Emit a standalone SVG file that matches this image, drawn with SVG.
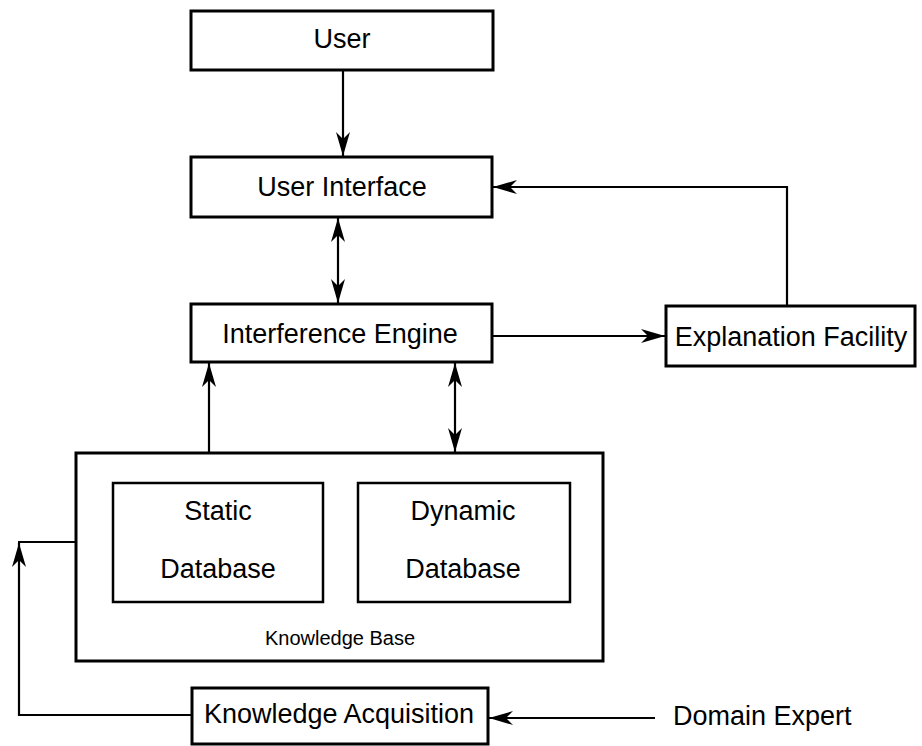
<svg xmlns="http://www.w3.org/2000/svg" width="922" height="746" viewBox="0 0 922 746">
<defs>
<style>
.box{fill:#fff;stroke:#000;stroke-width:3}
.inner{fill:none;stroke:#000;stroke-width:2.5}
.t{font-family:"Liberation Sans",Arial,sans-serif;font-size:27px;fill:#000;text-anchor:middle}
.s{font-family:"Liberation Sans",Arial,sans-serif;font-size:20px;fill:#000;text-anchor:middle}
.c{fill:none;stroke:#000;stroke-width:2.2}
</style>
<marker id="ah" markerUnits="userSpaceOnUse" markerWidth="26" markerHeight="14" refX="24" refY="7" orient="auto-start-reverse" viewBox="0 0 26 14">
<path d="M0,0 L24,7 L0,14 L7,7 Z" fill="#000"/>
</marker>
</defs>
<rect width="922" height="746" fill="#fff"/>
<g id="connectors">
<line class="c" x1="343" y1="70" x2="343" y2="156" marker-end="url(#ah)"/>
<line class="c" x1="338" y1="218" x2="338" y2="303" marker-start="url(#ah)" marker-end="url(#ah)"/>
<polyline class="c" points="787,306 787,187 493,187" marker-end="url(#ah)"/>
<line class="c" x1="492" y1="336" x2="665" y2="336" marker-end="url(#ah)"/>
<line class="c" x1="209" y1="453" x2="209" y2="363" marker-end="url(#ah)"/>
<line class="c" x1="455" y1="363" x2="455" y2="452" marker-start="url(#ah)" marker-end="url(#ah)"/>
<polyline class="c" points="192,715 19,715 19,543" marker-end="url(#ah)"/>
<line class="c" x1="18" y1="542" x2="76" y2="542"/>
<line class="c" x1="655" y1="718" x2="489" y2="718" marker-end="url(#ah)"/>
</g>
<g id="user">
<rect class="box" x="191" y="11" width="302" height="59"/>
<text class="t" x="342" y="48">User</text>
</g>
<g id="user-interface">
<rect class="box" x="191" y="157" width="301" height="60"/>
<text class="t" x="342" y="196">User Interface</text>
</g>
<g id="interference-engine">
<rect class="box" x="191" y="304" width="301" height="58"/>
<text class="t" x="340" y="343">Interference Engine</text>
</g>
<g id="explanation-facility">
<rect class="box" x="666" y="306" width="249" height="60"/>
<text class="t" x="791" y="346">Explanation Facility</text>
</g>
<g id="knowledge-base">
<rect class="box" x="76" y="453" width="527" height="208"/>
<text class="s" x="340" y="645">Knowledge Base</text>
</g>
<g id="static-database">
<rect class="inner" x="113" y="483" width="210" height="119"/>
<text class="t" x="218" y="520">Static</text>
<text class="t" x="218" y="578">Database</text>
</g>
<g id="dynamic-database">
<rect class="inner" x="358" y="483" width="212" height="119"/>
<text class="t" x="463" y="520">Dynamic</text>
<text class="t" x="463" y="578">Database</text>
</g>
<g id="knowledge-acquisition">
<rect class="box" x="192" y="688" width="296" height="56"/>
<text class="t" x="339" y="723">Knowledge Acquisition</text>
</g>
<g id="domain-expert">
<text class="t" x="673" y="725" style="text-anchor:start">Domain Expert</text>
</g>
</svg>
